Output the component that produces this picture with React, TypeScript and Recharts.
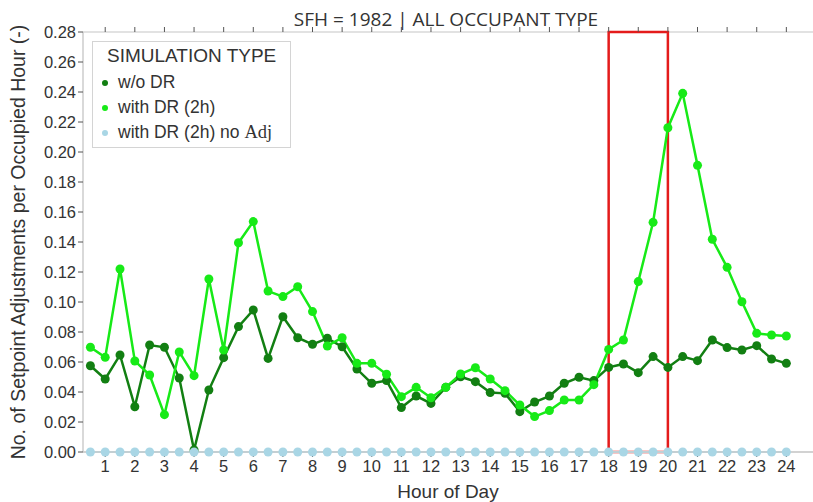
import React from 'react';
import {
  LineChart,
  Line,
  XAxis,
  YAxis,
  CartesianGrid,
  ReferenceArea,
  Label,
} from 'recharts';

// half-hour steps, 0.5 .. 24
const HOURS = [
  0.5, 1, 1.5, 2, 2.5, 3, 3.5, 4, 4.5, 5, 5.5, 6, 6.5, 7, 7.5, 8, 8.5, 9, 9.5, 10, 10.5, 11, 11.5, 12,
  12.5, 13, 13.5, 14, 14.5, 15, 15.5, 16, 16.5, 17, 17.5, 18, 18.5, 19, 19.5, 20, 20.5, 21, 21.5, 22,
  22.5, 23, 23.5, 24,
];

const WITHOUT_DR = [
  0.0575, 0.0487, 0.0647, 0.0302, 0.0713, 0.0698, 0.0493, 0.0013, 0.0413, 0.0629, 0.0836, 0.0947,
  0.0624, 0.0902, 0.0762, 0.0718, 0.0758, 0.0702, 0.0553, 0.0458, 0.0476, 0.0296, 0.0373, 0.0324,
  0.0431, 0.0502, 0.0469, 0.0396, 0.0391, 0.0269, 0.0333, 0.0373, 0.0458, 0.0498, 0.0476, 0.0564,
  0.0587, 0.0529, 0.0636, 0.0564, 0.0636, 0.0609, 0.0747, 0.0696, 0.068, 0.0709, 0.062, 0.0591,
];

const WITH_DR = [
  0.0698, 0.0631, 0.122, 0.0607, 0.0513, 0.0249, 0.0667, 0.0509, 0.1153, 0.068, 0.1395, 0.1536,
  0.1073, 0.1036, 0.1102, 0.0936, 0.0707, 0.0762, 0.0591, 0.0591, 0.0518, 0.0369, 0.0431, 0.0362,
  0.0431, 0.052, 0.0562, 0.0487, 0.0409, 0.0313, 0.0236, 0.0276, 0.0347, 0.0347, 0.0449, 0.0684,
  0.0747, 0.1136, 0.1531, 0.2162, 0.2391, 0.1911, 0.1418, 0.1231, 0.1002, 0.0791, 0.078, 0.0773,
];

const WITH_DR_NO_ADJ = HOURS.map(() => 0);

const X_TICKS = [
  1, 2, 3, 4, 5, 6, 7, 8, 9, 10, 11, 12, 13, 14, 15, 16, 17, 18, 19, 20, 21, 22, 23, 24,
];
const Y_TICKS = [
  0, 0.02, 0.04, 0.06, 0.08, 0.1, 0.12, 0.14, 0.16, 0.18, 0.2, 0.22, 0.24, 0.26, 0.28,
];

const DARK = '#127f12';
const LIME = '#17ea17';
const PALE = '#a9d6e5';

const data = HOURS.map((h, i) => ({
  hour: h,
  woDR: WITHOUT_DR[i],
  withDR: WITH_DR[i],
  noAdj: WITH_DR_NO_ADJ[i],
}));

const FONT = '"Liberation Sans", Arial, sans-serif';
const TICK = { fontSize: 16.5, fill: '#333', fontFamily: FONT };

function LegendBox() {
  const items = [
    { label: 'w/o DR', color: DARK },
    { label: 'with DR (2h)', color: LIME },
    { label: 'with DR (2h) no ', tail: 'Adj', color: PALE },
  ];
  return (
    <div
      style={{
        position: 'absolute',
        left: 92,
        top: 41,
        width: 199,
        height: 107,
        border: '1px solid #d4d4d4',
        background: 'rgba(255,255,255,0.9)',
        fontFamily: FONT,
        color: '#333',
        boxSizing: 'border-box',
      }}
    >
      <div style={{ position: 'absolute', left: 14, top: 3, fontSize: 19 }}>SIMULATION TYPE</div>
      {items.map((it, i) => (
        <div
          key={it.label}
          style={{ position: 'absolute', left: 9, top: 30 + i * 25, fontSize: 17.5, display: 'flex', alignItems: 'center' }}
        >
          <span
            style={{ width: 6, height: 6, borderRadius: 3, background: it.color, display: 'inline-block', marginRight: 10 }}
          />
          <span>
            {it.label}
            {it.tail && <span style={{ fontFamily: '"Liberation Serif", serif', fontSize: 18.5 }}>{it.tail}</span>}
          </span>
        </div>
      ))}
    </div>
  );
}

export default function App() {
  return (
    <div style={{ position: 'absolute', left: 0, top: 0, width: 813, height: 502, background: '#fff' }}>
      <div
        style={{
          position: 'absolute',
          left: 0,
          width: 892,
          top: 6,
          textAlign: 'center',
          fontSize: 19,
          color: '#333',
          fontFamily: '"Open Sans", sans-serif',
        }}
      >
        SFH = 1982 | ALL OCCUPANT TYPE
      </div>
      <div style={{ position: 'absolute', left: 0, top: 0 }}>
        <LineChart width={813} height={502} data={data} margin={{ top: 0, right: 0, bottom: 0, left: 0 }}>
          <CartesianGrid vertical={false} stroke="#d9d9d9" strokeWidth={1.5} />
          <XAxis
            xAxisId="bottom"
            dataKey="hour"
            type="number"
            domain={[0.25, 24.9]}
            ticks={X_TICKS}
            interval={0}
            allowDataOverflow
            height={50}
            tick={TICK}
            tickSize={5}
            tickMargin={3}
            tickLine={{ stroke: '#555' }}
            axisLine={{ stroke: '#cccccc', strokeWidth: 1.5 }}
          >
            <Label value="Hour of Day" position="insideBottom" offset={4} style={{ fontSize: 19, fill: '#333', fontFamily: FONT }} />
          </XAxis>
          <XAxis
            xAxisId="top"
            orientation="top"
            dataKey="hour"
            type="number"
            domain={[0.25, 24.9]}
            ticks={X_TICKS}
            interval={0}
            allowDataOverflow
            height={32}
            tick={() => <g />}
            tickSize={5}
            tickLine={{ stroke: '#555' }}
            axisLine={false}
          />
          <YAxis
            yAxisId="y"
            domain={[0, 0.28]}
            ticks={Y_TICKS}
            interval={0}
            width={83}
            tick={TICK}
            tickSize={5}
            tickLine={{ stroke: '#555' }}
            axisLine={{ stroke: '#cccccc', strokeWidth: 1.5 }}
            tickFormatter={(v: number) => v.toFixed(2)}
          >
            <Label
              value="No. of Setpoint Adjustments per Occupied Hour (-)"
              angle={-90}
              position="insideLeft"
              offset={18}
              style={{ fontSize: 19.5, fill: '#333', fontFamily: FONT, textAnchor: 'middle' }}
            />
          </YAxis>
          <Line
            xAxisId="bottom"
            yAxisId="y"
            dataKey="woDR"
            stroke={DARK}
            strokeWidth={2.5}
            dot={{ r: 4.5, fill: DARK, stroke: DARK, strokeWidth: 0 }}
            isAnimationActive={false}
          />
          <Line
            xAxisId="bottom"
            yAxisId="y"
            dataKey="withDR"
            stroke={LIME}
            strokeWidth={2.5}
            dot={{ r: 4.5, fill: LIME, stroke: LIME, strokeWidth: 0 }}
            isAnimationActive={false}
          />
          <Line
            xAxisId="bottom"
            yAxisId="y"
            dataKey="noAdj"
            stroke={PALE}
            strokeWidth={2}
            dot={{ r: 4.5, fill: PALE, stroke: PALE, strokeWidth: 0 }}
            isAnimationActive={false}
          />
          <ReferenceArea
            xAxisId="bottom"
            yAxisId="y"
            x1={18}
            x2={20}
            y1={0}
            y2={0.28}
            fill="none"
            fillOpacity={0}
            stroke="#e41b1b"
            strokeWidth={2.5}
          />
        </LineChart>
      </div>
      <LegendBox />
    </div>
  );
}
